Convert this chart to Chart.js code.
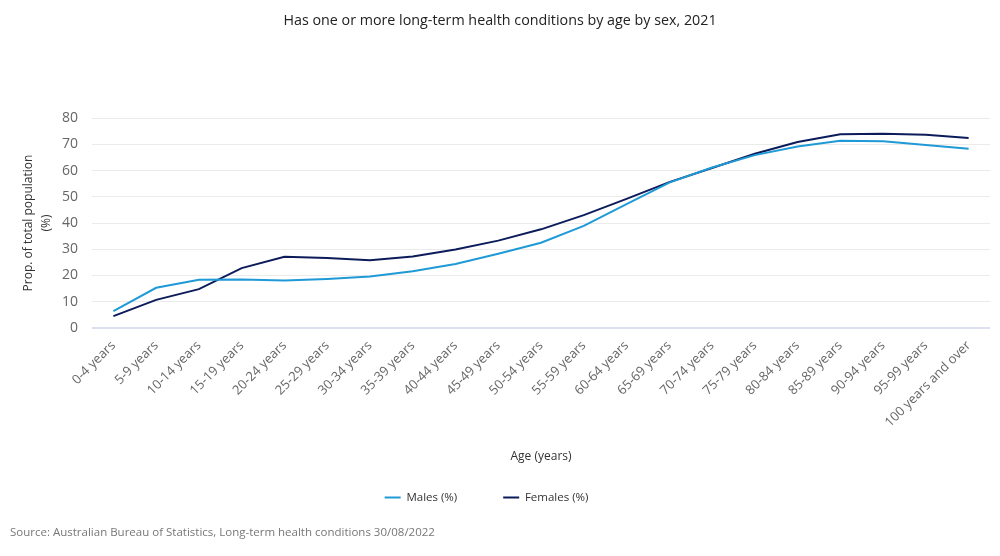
<!DOCTYPE html>
<html>
<head>
    <title>Long-term health conditions by age by sex</title>
    <script src="https://cdn.jsdelivr.net/npm/chart.js"></script>
    <style>
        body { margin: 0; background: #fff; }
        #wrap { width: 1000px; height: 556px; }
    </style>
</head>
<body>
    <div id="wrap"><canvas id="ltc-chart"></canvas></div>

    <script>
        // age groups along the x axis
        const ageGroups = ['0-4 years', '5-9 years', '10-14 years', '15-19 years', '20-24 years',
            '25-29 years', '30-34 years', '35-39 years', '40-44 years', '45-49 years',
            '50-54 years', '55-59 years', '60-64 years', '65-69 years', '70-74 years',
            '75-79 years', '80-84 years', '85-89 years', '90-94 years', '95-99 years',
            '100 years and over'];

        // proportion (%) with one or more long-term conditions
        const males = [6.4, 15.3, 18.4, 18.5, 18.1, 18.7, 19.6, 21.6, 24.4, 28.3,
            32.5, 38.9, 47.2, 55.4, 61.2, 65.9, 69.2, 71.4, 71.2, 69.8, 68.3];
        const females = [4.5, 10.7, 14.8, 22.8, 27.1, 26.7, 25.8, 27.2, 29.9, 33.3,
            37.6, 43.0, 49.2, 55.6, 61.0, 66.4, 70.9, 73.9, 74.1, 73.7, 72.4];

        const yTicks = [0, 10, 20, 30, 40, 50, 60, 70, 80];

        const font = '"Open Sans", "Noto Sans", sans-serif';
        Chart.defaults.font.family = font;

        // legend items sit further apart than the vertical padding allows,
        // so widen them with trailing spaces (last one too, to pull the row left)
        const legendSpacing = ['      ', '         '];

        const ctx = document.getElementById('ltc-chart').getContext('2d');
        new Chart(ctx, {
            type: 'line',
            data: {
                labels: ageGroups,
                datasets: [{
                    label: 'Males (%)',
                    data: males,
                    borderColor: '#1f9ad6',
                    backgroundColor: '#1f9ad6',
                    borderWidth: 2,
                    pointRadius: 0,
                    tension: 0
                }, {
                    label: 'Females (%)',
                    data: females,
                    borderColor: '#0c1c5a',
                    backgroundColor: '#0c1c5a',
                    borderWidth: 2,
                    pointRadius: 0,
                    tension: 0
                }]
            },
            options: {
                responsive: true,
                maintainAspectRatio: false,
                animation: false,
                layout: { padding: { left: 10, right: 10, top: 0, bottom: 16 } },
                plugins: {
                    title: {
                        display: true,
                        text: 'Has one or more long-term health conditions by age by sex, 2021',
                        color: '#222',
                        font: { size: 14.3, weight: 'normal' },
                        padding: { top: 12, bottom: 89 }
                    },
                    subtitle: {
                        display: true,
                        position: 'bottom',
                        align: 'start',
                        text: 'Source: Australian Bureau of Statistics, Long-term health conditions 30/08/2022',
                        color: '#777',
                        font: { size: 11.5 },
                        padding: { top: 13, bottom: 0 }
                    },
                    legend: {
                        position: 'bottom',
                        labels: {
                            usePointStyle: true,
                            pointStyle: 'line',
                            pointStyleWidth: 16,
                            boxHeight: 8,
                            color: '#333',
                            font: { size: 11.5 },
                            padding: 28,
                            generateLabels: chart => {
                                const items = Chart.defaults.plugins.legend.labels.generateLabels(chart);
                                items.forEach((it, i) => { it.text += legendSpacing[i]; });
                                return items;
                            }
                        }
                    },
                    tooltip: { enabled: false }
                },
                scales: {
                    x: {
                        offset: true,
                        grid: { display: false },
                        border: { display: false },
                        ticks: {
                            color: '#666',
                            font: { size: 13 },
                            maxRotation: 45,
                            minRotation: 45,
                            autoSkip: false,
                            padding: 2
                        },
                        title: {
                            display: true,
                            text: 'Age (years)',
                            color: '#333',
                            font: { size: 12 },
                            padding: { top: 17, bottom: 0 }
                        }
                    },
                    y: {
                        min: 0,
                        max: 80,
                        afterBuildTicks: axis => {
                            axis.ticks = yTicks.map(v => ({ value: v }));
                        },
                        grid: {
                            color: c => c.tick.value === 0 ? '#dcdff0' : '#ebebeb',
                            lineWidth: c => c.tick.value === 0 ? 2 : 1,
                            drawTicks: false
                        },
                        border: { display: false },
                        ticks: {
                            color: '#666',
                            font: { size: 14 },
                            padding: 14
                        },
                        title: {
                            display: true,
                            text: ['Prop. of total population', '(%)'],
                            color: '#333',
                            font: { size: 12, lineHeight: 1.5 },
                            padding: { top: 10, bottom: -8 }
                        }
                    }
                }
            }
        });
    </script>
</body>
</html>
